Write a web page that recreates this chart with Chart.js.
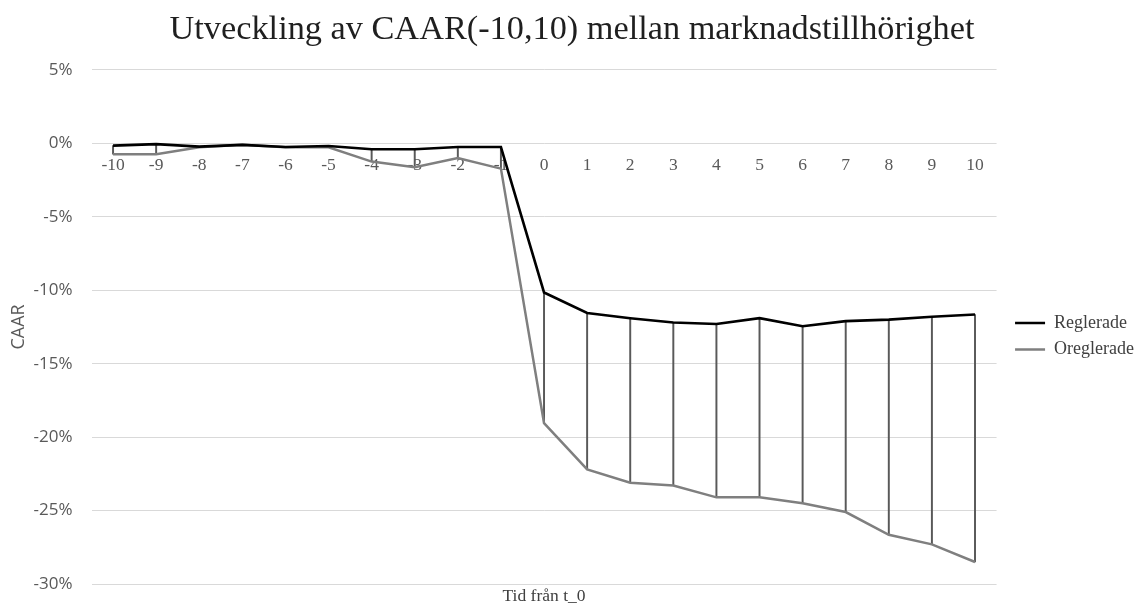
<!DOCTYPE html>
<html>
<head>
<meta charset="utf-8">
<script src="https://cdn.jsdelivr.net/npm/chart.js@4/dist/chart.umd.min.js"></script>
<style>
  html, body { margin: 0; padding: 0; background: #ffffff; }
  #wrap { width: 1140px; height: 605px; position: relative; }
</style>
</head>
<body>
<div id="wrap"><canvas id="c" width="1140" height="605"></canvas></div>
<script>
const categories = ['-10','-9','-8','-7','-6','-5','-4','-3','-2','-1','0','1','2','3','4','5','6','7','8','9','10'];
const reglerade = [-0.15, -0.05, -0.22, -0.1, -0.25, -0.18, -0.4, -0.4, -0.25, -0.25, -10.15, -11.55, -11.9, -12.2, -12.3, -11.9, -12.45, -12.1, -12.0, -11.8, -11.65];
const oreglerade = [-0.74, -0.74, -0.26, -0.1, -0.26, -0.26, -1.24, -1.62, -1.0, -1.72, -19.05, -22.2, -23.1, -23.3, -24.1, -24.1, -24.5, -25.1, -26.65, -27.3, -28.5];
const yTicks = [5, 0, -5, -10, -15, -20, -25, -30];

const highLow = categories.map((_, i) => [Math.min(reglerade[i], oreglerade[i]), Math.max(reglerade[i], oreglerade[i])]);

new Chart(document.getElementById('c'), {
  data: {
    labels: categories,
    datasets: [
      {
        type: 'line', label: 'Reglerade', data: reglerade,
        borderColor: '#000000', backgroundColor: '#000000',
        borderWidth: 2.6, pointRadius: 0, tension: 0, order: 1, yAxisID: 'y'
      },
      {
        type: 'line', label: 'Oreglerade', data: oreglerade,
        borderColor: '#7f7f7f', backgroundColor: '#7f7f7f',
        borderWidth: 2.5, pointRadius: 0, tension: 0, order: 2, yAxisID: 'y'
      },
      {
        type: 'bar', label: 'hl', data: highLow,
        backgroundColor: '#595959', barThickness: 1.3, order: 3, yAxisID: 'y'
      }
    ]
  },
  options: {
    responsive: false,
    animation: false,
    layout: { padding: { left: 0, right: -4, top: 0, bottom: 0 } },
    plugins: {
      tooltip: { enabled: false },
      title: {
        display: true,
        text: 'Utveckling av CAAR(-10,10) mellan marknadstillhörighet',
        font: { family: 'Liberation Serif', size: 34.3, weight: 'normal' },
        color: '#1f1f1f',
        padding: { top: 9, bottom: 19.8 }
      },
      legend: {
        position: 'right',
        align: 'center',
        title: { display: true, text: ' ', font: { size: 10 }, padding: { top: 0, bottom: 55.5 } },
        labels: {
          filter: (item) => item.text !== 'hl',
          font: { family: 'Liberation Serif', size: 18 },
          color: '#404040',
          usePointStyle: true,
          pointStyle: 'line',
          pointStyleWidth: 30,
          boxHeight: 18,
          padding: 8.5
        }
      }
    },
    scales: {
      x: {
        type: 'category',
        position: { y: 0 },
        offset: true,
        grid: { display: false, drawTicks: false },
        border: { display: false },
        ticks: {
          font: { family: 'Liberation Serif', size: 17.5 },
          color: '#595959',
          maxRotation: 0, autoSkip: false, padding: 12
        },
        afterFit: (s) => { s.height = 0; }
      },
      x2: {
        type: 'category',
        position: 'bottom',
        offset: true,
        grid: { display: false, drawTicks: false },
        border: { display: false },
        ticks: { display: false },
        title: {
          display: true, text: 'Tid från t_0',
          font: { family: 'Liberation Serif', size: 17.5 },
          color: '#404040',
          padding: { top: 0, bottom: -1.5 }
        },
        afterFit: (s) => { s.height = 21; }
      },
      y: {
        min: -30, max: 5,
        afterBuildTicks: (s) => { s.ticks = yTicks.map(v => ({ value: v })); },
        grid: { color: '#d9d9d9', lineWidth: 1, drawTicks: true, tickLength: 9, tickColor: 'rgba(0,0,0,0)' },
        border: { display: false },
        ticks: {
          font: { family: 'Open Sans', size: 17 },
          color: '#595959',
          padding: 10,
          callback: (v) => v + '%'
        },
        title: {
          display: true, text: 'CAAR',
          font: { family: 'Open Sans', size: 18 },
          color: '#595959',
          padding: { top: 8, bottom: 0 }
        },
        afterFit: (s) => { s.width = 91.5; }
      },
      y2: {
        type: 'linear',
        position: 'right',
        display: true,
        grid: { display: false, drawTicks: false },
        border: { display: false },
        ticks: { display: false },
        afterFit: (s) => { s.width = 10; }
      }
    }
  }
});
</script>
</body>
</html>
